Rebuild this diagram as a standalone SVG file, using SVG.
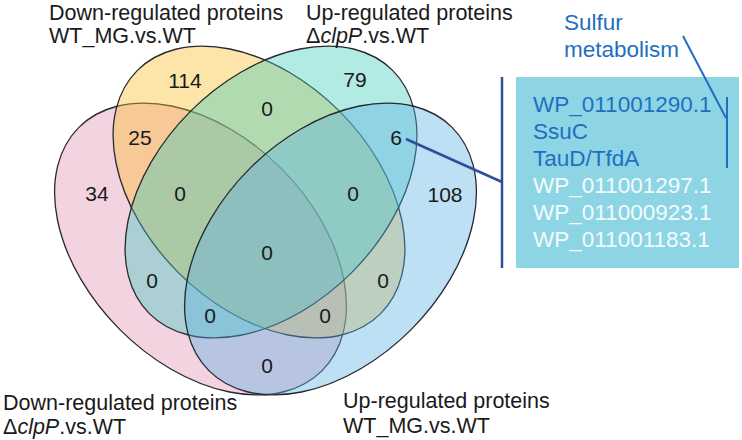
<svg xmlns="http://www.w3.org/2000/svg" width="742" height="440" viewBox="0 0 742 440">
<style>
.set{stroke:#262a30;stroke-width:1.3;fill-opacity:0.4}
.t{font-family:"Liberation Sans",Arial,sans-serif;font-size:21.5px;fill:#1a1a1a}
.n{font-family:"Liberation Sans",Arial,sans-serif;font-size:21px;fill:#1a1a1a;text-anchor:middle}
.bt{font-family:"Liberation Sans",Arial,sans-serif;font-size:22.5px}
.blue{fill:#1f6fc0}
.white{fill:#f4fbfd}
.conn{stroke:#2f4f9c;stroke-width:2.5;fill:none}
.brk{stroke:#1f6fc0;stroke-width:2;fill:none}
</style>
<rect width="742" height="440" fill="#ffffff"/>
<g id="set-pink"><ellipse class="set" cx="200.5" cy="249" rx="172" ry="114" transform="rotate(45 200.5 249)" fill="#e491b4"/></g>
<g id="set-yellow"><ellipse class="set" cx="259" cy="192" rx="172" ry="114" transform="rotate(45 259 192)" fill="#fabb26"/></g>
<g id="set-cyan"><ellipse class="set" cx="271" cy="192" rx="172" ry="114" transform="rotate(-45 271 192)" fill="#3fcbbc"/></g>
<g id="set-blue"><ellipse class="set" cx="330.5" cy="249" rx="172" ry="114" transform="rotate(-45 330.5 249)" fill="#5db2e4"/></g>
<g id="counts">
<text class="n" x="185" y="88">114</text>
<text class="n" x="355" y="87">79</text>
<text class="n" x="267" y="116">0</text>
<text class="n" x="140" y="145">25</text>
<text class="n" x="396" y="145">6</text>
<text class="n" x="97" y="201">34</text>
<text class="n" x="180" y="201">0</text>
<text class="n" x="353" y="201">0</text>
<text class="n" x="445" y="202">108</text>
<text class="n" x="267" y="260">0</text>
<text class="n" x="152" y="288">0</text>
<text class="n" x="383" y="288">0</text>
<text class="n" x="210" y="323">0</text>
<text class="n" x="325" y="323">0</text>
<text class="n" x="267" y="373">0</text>
</g>
<g id="label-yellow"><text class="t" x="49" y="19.5">Down-regulated proteins</text><text class="t" x="49" y="43">WT_MG.vs.WT</text></g>
<g id="label-cyan"><text class="t" x="306" y="19.5">Up-regulated proteins</text><text class="t" x="306" y="43">Δ<tspan font-style="italic">clpP</tspan>.vs.WT</text></g>
<g id="label-pink"><text class="t" x="3" y="410">Down-regulated proteins</text><text class="t" x="3" y="434">Δ<tspan font-style="italic">clpP</tspan>.vs.WT</text></g>
<g id="label-blue"><text class="t" x="343" y="408">Up-regulated proteins</text><text class="t" x="343" y="433">WT_MG.vs.WT</text></g>
<g id="protein-box">
<rect x="516" y="77" width="223" height="191" fill="#8dd5e4"/>
<text class="bt blue" x="533" y="112">WP_011001290.1</text>
<text class="bt blue" x="533" y="139">SsuC</text>
<text class="bt blue" x="533" y="166">TauD/TfdA</text>
<text class="bt white" x="533" y="193">WP_011001297.1</text>
<text class="bt white" x="533" y="220">WP_011000923.1</text>
<text class="bt white" x="533" y="247">WP_011001183.1</text>
</g>
<g id="sulfur-label">
<text class="bt blue" x="564" y="30">Sulfur</text>
<text class="bt blue" x="564" y="57">metabolism</text>
</g>
<g id="connectors">
<line class="conn" x1="406" y1="139" x2="502" y2="182"/>
<line class="conn" x1="502" y1="77" x2="502" y2="268"/>
<line class="brk" x1="683" y1="36" x2="726" y2="118"/>
<line class="brk" x1="727" y1="97" x2="727" y2="168"/>
</g>
</svg>
